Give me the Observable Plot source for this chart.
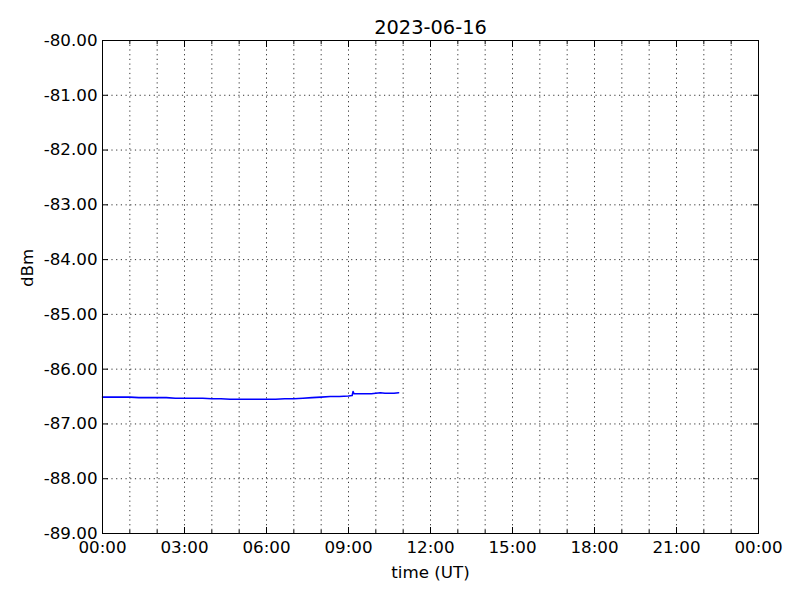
<!DOCTYPE html>
<html><head><meta charset="utf-8">
<script src="https://cdn.jsdelivr.net/npm/d3@7"></script>
<script src="https://cdn.jsdelivr.net/npm/@observablehq/plot@0.6"></script>
<style>body{margin:0;background:#fff}</style>
</head><body><div id="chart"></div>
<script>
const title = "2023-06-16";
const xLabel = "time (UT)";
const yLabel = "dBm";
const times = ["00:00","00:20","00:40","01:00","01:20","01:40","02:00","02:20","02:40","03:00","03:20","03:40","04:00","04:20","04:40","05:00","05:20","05:40","06:00","06:20","06:40","07:00","07:20","07:40","08:00","08:20","08:40","09:00","09:08","09:10","09:12","09:30","09:50","10:00","10:10","10:20","10:40","10:50"];
const values = [-86.51,-86.51,-86.51,-86.51,-86.52,-86.52,-86.52,-86.52,-86.53,-86.53,-86.53,-86.53,-86.54,-86.54,-86.55,-86.55,-86.55,-86.55,-86.55,-86.55,-86.54,-86.54,-86.53,-86.52,-86.51,-86.50,-86.50,-86.49,-86.48,-86.41,-86.45,-86.45,-86.45,-86.44,-86.43,-86.44,-86.44,-86.43];
const yTicks = [-89,-88,-87,-86,-85,-84,-83,-82,-81,-80];
const majorHours = [0,3,6,9,12,15,18,21,24];
const minorHours = [0,1,2,3,4,5,6,7,8,9,10,11,12,13,14,15,16,17,18,19,20,21,22,23,24];

const toDate = h => new Date(Date.UTC(2023,5,16,h,0));
const data = times.map((t,i) => {
  const [hh,mm] = t.split(":").map(Number);
  return {t: new Date(Date.UTC(2023,5,16,hh,mm)), v: values[i]};
});
const majorX = majorHours.map(toDate);
const minorX = minorHours.map(toDate);
const fmtX = d3.utcFormat("%H:%M");
const fmtY = d => d.toFixed(2);
const font = "DejaVu Sans, sans-serif";

const chart = Plot.plot({
  width: 800, height: 600,
  marginLeft: 102, marginRight: 42, marginTop: 40, marginBottom: 67,
  style: {fontFamily: font, fontSize: "16.7px", color: "black", background: "white"},
  x: {type: "utc", domain: [toDate(0), toDate(24)]},
  y: {domain: [-89, -80]},
  marks: [
    Plot.gridX(minorX, {stroke: "black", strokeOpacity: 0.8, strokeDasharray: "1.2,3.5", strokeWidth: 1}),
    Plot.gridY(yTicks, {stroke: "black", strokeOpacity: 0.8, strokeDasharray: "1.2,3.5", strokeWidth: 1}),
    Plot.line(data, {x: "t", y: "v", stroke: "#0000ff", strokeWidth: 1.6}),
    Plot.axisX(majorX, {anchor: "bottom", tickSize: -6, tickPadding: 14, tickFormat: fmtX, label: null, fontSize: 16.7}),
    Plot.axisX(minorX, {anchor: "bottom", tickSize: -3, tickFormat: () => "", label: null}),
    Plot.axisX(majorX, {anchor: "top", tickSize: -6, tickFormat: () => "", label: null}),
    Plot.axisX(minorX, {anchor: "top", tickSize: -3, tickFormat: () => "", label: null}),
    Plot.axisY(yTicks, {anchor: "left", tickSize: -6, tickPadding: 11, tickFormat: fmtY, label: null, fontSize: 16.7}),
    Plot.axisY(yTicks, {anchor: "right", tickSize: -6, tickFormat: () => "", label: null}),
    Plot.frame({stroke: "black", strokeWidth: 1}),
    Plot.text([title], {frameAnchor: "top", dy: -13, fontSize: 19.4, fill: "black", lineAnchor: "middle"}),
    Plot.text([xLabel], {frameAnchor: "bottom", dy: 39, fontSize: 16.7, fill: "black", lineAnchor: "middle"}),
    Plot.text([yLabel], {frameAnchor: "left", dx: -75, rotate: -90, fontSize: 16.7, fill: "black", lineAnchor: "middle"})
  ]
});
document.getElementById("chart").appendChild(chart);
</script>
</body></html>
